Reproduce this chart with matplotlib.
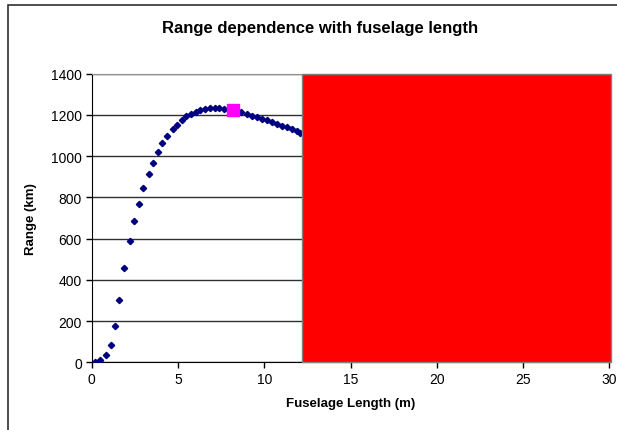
import matplotlib
matplotlib.use("Agg")
import matplotlib.pyplot as plt
import matplotlib.patches as patches

plt.rcParams['font.family'] = ['Liberation Sans', 'DejaVu Sans']

# data
fuselage_length = [0.21, 0.50, 0.85, 1.10, 1.35, 1.60, 1.87, 2.20, 2.47, 2.72,
                   2.99, 3.30, 3.57, 3.83, 4.09, 4.36, 4.69, 4.96, 5.21, 5.47,
                   5.74, 6.04, 6.29, 6.56, 6.84, 7.13, 7.39, 7.67, 7.95, 8.38,
                   8.67, 8.98, 9.29, 9.58, 9.87, 10.17, 10.45, 10.72, 11.03, 11.30,
                   11.59, 11.88, 12.07]
range_km = [1, 13, 35, 85, 175, 302, 457, 590, 684, 769,
            847, 913, 968, 1018, 1062, 1096, 1130, 1153, 1175, 1193,
            1204, 1214, 1224, 1229, 1232, 1232, 1232, 1230, 1226, 1218,
            1214, 1205, 1197, 1190, 1182, 1176, 1167, 1156, 1147, 1140,
            1132, 1122, 1111]
opt_length = [8.21]
opt_range = [1222]
excluded_x = [12.17, 30.1]
excluded_top = [1400, 1400]

fig = plt.figure(figsize=(6.17, 4.31), dpi=100)
ax = fig.add_axes([91.7 / 617, 1 - 363.3 / 431, (609.5 - 91.7) / 617, (363.3 - 74.7) / 431])

ax.plot(fuselage_length, range_km, linestyle='none', marker='D', markersize=3.2,
        color='#000080', zorder=3)
ax.plot(opt_length, opt_range, linestyle='none', marker='s', markersize=8,
        color='#ff00ff', zorder=4)
ax.fill_between(excluded_x, 0, excluded_top, facecolor='#ff0000', edgecolor='#808080',
                linewidth=1, zorder=5, clip_on=False)

ax.set_xlim(0, 30)
ax.set_ylim(0, 1400)
ax.set_xticks(range(0, 31, 5))
ax.set_yticks(range(0, 1401, 200))
ax.yaxis.grid(True, color='#303030', linewidth=1)
ax.set_axisbelow(True)
ax.tick_params(direction='out', length=4, width=1, labelsize=10, pad=3)
ax.spines['top'].set_color('#909090')
ax.spines['right'].set_visible(False)

ax.set_title('Range dependence with fuselage length', fontsize=12, fontweight='bold',
             pad=30, x=0.441)
ax.set_xlabel('Fuselage Length (m)', fontsize=9.5, fontweight='bold', labelpad=8)
ax.set_ylabel('Range (km)', fontsize=9.5, fontweight='bold', labelpad=10)

fig.patches.append(patches.Rectangle((8 / 617, -0.1), 1.2, 1.1 - 5.5 / 431,
                                     transform=fig.transFigure, fill=False,
                                     edgecolor='#303030', linewidth=1.2))

fig.savefig('out.png', dpi=100)
